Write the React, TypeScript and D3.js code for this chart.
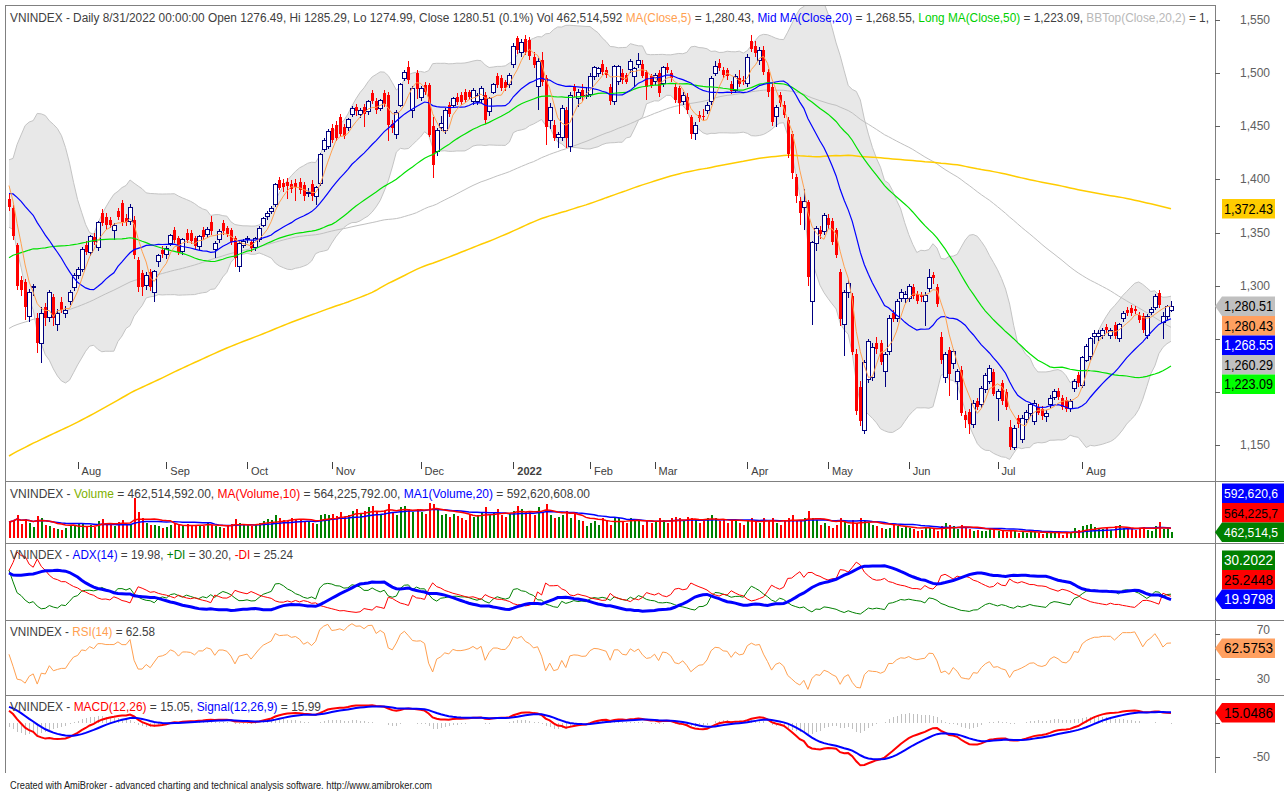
import React, { useMemo } from "react";
import * as d3 from "d3";

type Bar = [number, number, number, number]; // open, high, low, close

// closes before the first visible bar (warm-up for the long averages)
const prevCloses: number[] = [
  893, 895, 900, 905, 903, 907, 905, 906,
  910, 915, 918, 922, 925, 928, 930, 932, 935, 938, 940, 942, 944, 945, 940, 936, 930, 926, 924, 928, 931, 925,
  933, 940, 948, 955, 958, 960, 965, 970, 968, 972, 975, 978, 982, 985, 990, 995, 1000, 995, 1003, 1008, 1003,
  1010, 1015, 1020, 1025, 1030, 1035, 1040, 1045, 1050, 1055, 1060, 1058, 1065, 1070, 1075, 1080, 1085, 1090, 1095, 1100, 1098, 1102, 1104,
  1120, 1130, 1140, 1150, 1160, 1170, 1180, 1185, 1190, 1186, 1175, 1180, 1175, 1165, 1160, 1140, 1080, 1030, 1023, 1056,
  1080, 1090, 1110, 1120, 1090, 1110, 1130, 1150, 1165, 1170, 1170, 1165, 1168, 1172,
  1175, 1180, 1170, 1165, 1175, 1180, 1170, 1175, 1180, 1185, 1178, 1182, 1170, 1165, 1168, 1175, 1180, 1185, 1175, 1165, 1170, 1185, 1191,
  1195, 1200, 1210, 1220, 1225, 1230, 1232, 1235, 1240, 1245, 1250, 1248, 1240, 1235, 1230, 1225, 1215, 1220, 1225, 1230, 1239,
  1230, 1225, 1230, 1240, 1245, 1250, 1255, 1250, 1245, 1255, 1265, 1270, 1275, 1280, 1285, 1290, 1295, 1300, 1310, 1328,
  1340, 1345, 1350, 1355, 1360, 1350, 1340, 1345, 1355, 1365, 1370, 1375, 1380, 1380, 1385, 1390, 1390, 1395, 1385, 1380, 1390, 1408,
  1415, 1420, 1405, 1390, 1382,
];

const jul21: Bar[] = [
  [1382,1386,1370,1374],[1373,1376,1343,1347],[1338,1340,1296,1300],[1305,1309,1290,1296],[1303,1306,1268,1280],
  [1271,1297,1266,1294],[1298,1302,1290,1299],[1270,1274,1237,1246],[1246,1280,1227,1274],[1280,1284,1262,1270],
  [1270,1296,1266,1294],[1289,1292,1262,1270],[1263,1278,1257,1274],[1285,1289,1274,1277],[1274,1281,1270,1277],
  [1285,1296,1282,1294],[1298,1312,1295,1310],
];
const aug21: Bar[] = [
  [1310,1318,1306,1315],[1315,1336,1313,1334],[1338,1342,1329,1332],[1331,1348,1328,1346],[1346,1350,1338,1341],
  [1336,1361,1333,1359],[1368,1372,1356,1359],[1365,1368,1352,1357],[1362,1365,1354,1357],[1352,1359,1343,1357],
  [1370,1373,1362,1365],[1378,1381,1356,1360],[1364,1367,1356,1360],[1360,1377,1357,1374],[1362,1366,1325,1329],
  [1324,1327,1294,1299],[1312,1315,1290,1299],[1300,1313,1296,1310],[1313,1316,1295,1299],[1294,1315,1285,1313],
  [1323,1330,1318,1328],[1334,1337,1326,1330],
];
const sep21: Bar[] = [
  [1329,1337,1325,1335],[1340,1349,1337,1347],[1352,1355,1340,1343],[1345,1347,1329,1332],[1332,1345,1329,1343],
  [1350,1353,1340,1343],[1350,1352,1339,1342],[1345,1347,1334,1337],[1337,1348,1334,1346],[1352,1355,1343,1346],
  [1348,1355,1345,1353],[1360,1366,1348,1351],[1334,1342,1326,1340],[1343,1353,1340,1351],[1359,1362,1348,1351],
  [1354,1356,1346,1349],[1352,1354,1338,1341],[1345,1347,1318,1326],[1318,1342,1313,1340],[1338,1344,1335,1342],
];
const oct21: Bar[] = [
  [1343,1347,1340,1344],[1341,1343,1332,1335],[1336,1346,1333,1344],[1343,1356,1341,1354],[1357,1365,1355,1363],
  [1365,1370,1362,1368],[1370,1375,1367,1373],[1376,1397,1374,1395],[1399,1402,1390,1392],[1397,1400,1388,1393],
  [1398,1401,1382,1394],[1396,1399,1387,1391],[1397,1400,1380,1393],[1398,1401,1386,1390],[1395,1398,1380,1384],
  [1387,1392,1383,1388],[1396,1399,1380,1384],[1384,1394,1376,1392],[1396,1425,1394,1423],[1428,1439,1426,1437],
  [1431,1447,1429,1445],
];
const nov21: Bar[] = [
  [1448,1452,1434,1437],[1451,1455,1436,1439],[1459,1462,1440,1443],[1449,1452,1438,1441],[1449,1458,1446,1456],
  [1461,1469,1459,1467],[1468,1471,1460,1464],[1461,1467,1458,1465],[1468,1471,1449,1462],[1464,1475,1461,1473],
  [1481,1484,1471,1474],[1474,1477,1462,1465],[1467,1476,1464,1474],[1481,1484,1468,1471],[1479,1482,1436,1451],
  [1452,1456,1444,1448],[1442,1465,1438,1463],[1470,1491,1468,1489],[1495,1503,1493,1501],[1506,1511,1490,1494],
  [1465,1488,1458,1486],[1500,1503,1476,1485],
];
const dec21: Bar[] = [
  [1477,1488,1474,1486],[1489,1492,1479,1482],[1489,1491,1440,1442],[1450,1459,1401,1414],[1426,1448,1422,1446],
  [1449,1460,1446,1453],[1446,1467,1443,1465],[1470,1473,1459,1462],[1470,1478,1467,1476],[1478,1481,1470,1473],
  [1479,1482,1470,1473],[1482,1485,1472,1475],[1482,1484,1475,1478],[1473,1486,1470,1484],[1473,1481,1470,1479],
  [1475,1488,1472,1486],[1479,1482,1452,1456],[1464,1478,1460,1476],[1482,1491,1480,1489],[1497,1500,1486,1489],
  [1495,1498,1483,1486],[1492,1494,1483,1486],[1489,1500,1486,1498],
];
const jan22: Bar[] = [
  [1508,1528,1505,1525],[1533,1535,1518,1522],[1519,1532,1515,1529],[1532,1536,1517,1520],[1531,1534,1512,1516],
  [1515,1520,1505,1508],[1487,1514,1465,1511],[1512,1520,1488,1492],[1495,1498,1432,1449],[1455,1472,1447,1468],
  [1451,1456,1436,1439],[1439,1445,1430,1442],[1439,1470,1436,1467],[1465,1468,1430,1439],[1431,1482,1426,1479],
  [1487,1490,1478,1483],[1476,1485,1468,1482],[1484,1490,1474,1478],[1479,1487,1476,1479],
];
const feb22: Bar[] = [
  [1480,1500,1478,1497],[1497,1507,1494,1505],[1500,1506,1496,1504],[1509,1512,1498,1501],[1503,1506,1495,1498],
  [1487,1490,1470,1474],[1473,1508,1470,1506],[1492,1508,1489,1506],[1500,1504,1490,1494],[1498,1500,1490,1492],
  [1503,1513,1500,1511],[1497,1506,1487,1504],[1508,1519,1505,1512],[1509,1512,1495,1497],[1501,1503,1475,1487],
  [1497,1499,1486,1489],
];
const mar22: Bar[] = [
  [1492,1500,1489,1498],[1500,1503,1478,1481],[1490,1507,1487,1505],[1506,1510,1500,1503],[1500,1503,1492,1495],
  [1487,1490,1472,1475],[1486,1488,1462,1472],[1473,1482,1470,1479],[1478,1481,1462,1465],[1459,1461,1438,1443],
  [1443,1454,1437,1451],[1461,1464,1454,1458],[1460,1466,1455,1459],[1465,1473,1462,1470],[1473,1497,1470,1495],
  [1500,1511,1497,1506],[1510,1513,1502,1505],[1503,1506,1495,1498],[1503,1505,1494,1497],[1490,1493,1480,1483],
  [1484,1499,1481,1497],[1495,1503,1487,1490],[1494,1497,1489,1492],
];
const apr22: Bar[] = [
  [1490,1518,1487,1515],[1530,1536,1520,1523],[1526,1530,1515,1519],[1512,1525,1508,1521],[1522,1526,1498,1501],
  [1501,1504,1478,1482],[1487,1490,1450,1454],[1459,1470,1449,1468],[1479,1482,1468,1472],[1470,1474,1458,1461],
  [1456,1459,1420,1424],[1443,1446,1400,1406],[1402,1405,1378,1384],[1380,1383,1357,1368],[1374,1391,1352,1379],
  [1379,1381,1300,1308],[1285,1342,1263,1341],[1340,1356,1333,1354],[1352,1356,1344,1349],[1351,1368,1348,1366],
];
const may22: Bar[] = [
  [1364,1367,1353,1357],[1361,1364,1338,1341],[1352,1354,1326,1329],[1313,1316,1262,1269],[1263,1296,1234,1294],
  [1294,1305,1288,1302],[1290,1293,1235,1238],[1236,1240,1178,1182],[1205,1210,1168,1173],[1164,1230,1160,1228],
  [1212,1250,1208,1247],[1214,1246,1210,1242],[1246,1252,1236,1240],[1246,1249,1225,1228],[1219,1238,1205,1235],
  [1238,1272,1235,1269],[1274,1277,1266,1269],[1269,1287,1266,1285],[1288,1297,1285,1294],[1288,1295,1284,1292],
];
const jun22: Bar[] = [
  [1288,1302,1285,1299],[1299,1302,1287,1290],[1292,1295,1283,1286],[1291,1294,1285,1289],[1285,1294,1262,1291],
  [1297,1316,1294,1308],[1310,1313,1302,1307],[1299,1302,1280,1283],[1252,1256,1226,1230],[1214,1238,1208,1235],
  [1239,1242,1196,1217],[1227,1240,1222,1238],[1210,1222,1192,1219],[1221,1224,1177,1180],[1178,1182,1166,1174],
  [1181,1184,1160,1170],[1169,1192,1166,1189],[1191,1194,1183,1186],[1188,1206,1185,1203],[1202,1218,1199,1215],
  [1210,1225,1207,1222],[1219,1222,1196,1198],
];
const jul22: Bar[] = [
  [1194,1203,1173,1200],[1208,1211,1188,1191],[1200,1203,1183,1186],[1167,1174,1145,1148],[1148,1169,1145,1166],
  [1175,1178,1166,1170],[1155,1178,1152,1175],[1174,1183,1171,1181],[1180,1190,1177,1188],[1172,1192,1169,1189],
  [1186,1189,1178,1180],[1184,1187,1174,1177],[1177,1183,1172,1180],[1188,1197,1185,1194],[1195,1203,1192,1200],
  [1201,1204,1192,1195],[1194,1197,1183,1186],[1192,1195,1181,1184],[1184,1193,1181,1191],[1203,1212,1200,1210],
  [1216,1219,1205,1208],
];
const aug22: Bar[] = [
  [1206,1234,1204,1232],[1230,1245,1228,1243],[1233,1252,1230,1250],[1252,1258,1245,1255],[1252,1258,1248,1255],
  [1253,1260,1250,1258],[1261,1264,1255,1258],[1253,1260,1250,1258],[1263,1266,1250,1253],[1250,1265,1247,1263],
  [1269,1276,1266,1274],[1277,1280,1271,1274],[1279,1282,1271,1274],[1278,1281,1273,1276],[1272,1275,1265,1268],
  [1271,1274,1255,1258],[1253,1273,1250,1271],[1275,1280,1272,1278],[1279,1292,1277,1290],[1293,1296,1279,1282],
  [1265,1275,1250,1271],[1271,1282,1268,1280],[1276.49,1285.29,1274.99,1280.51],
];

// volume in millions of shares
const volJul21 = [780, 850, 1000, 720, 880, 760, 620, 980, 900, 700, 650, 580, 560, 520, 600, 640, 700];
const volAug21 = [720, 760, 650, 690, 620, 820, 880, 760, 700, 640, 780, 850, 700, 720, 1550, 1100, 900, 760, 680, 700, 640, 600];
const volSep21 = [620, 700, 760, 680, 640, 720, 680, 660, 700, 640, 760, 700, 640, 620, 600, 660, 720, 880, 760, 700];
const volOct21 = [680, 640, 700, 760, 820, 880, 840, 1000, 900, 860, 820, 900, 860, 840, 780, 800, 760, 720, 1000, 1050, 1000];
const volNov21 = [1050, 980, 1100, 950, 1000, 1150, 1200, 1050, 1150, 1250, 1300, 1100, 1000, 1150, 1350, 1100, 1000, 1250, 1300, 1200, 1100, 1200];
const volDec21 = [1100, 1050, 1400, 1350, 1200, 1000, 1050, 950, 1050, 980, 900, 850, 1050, 950, 1000, 1100, 1250, 1000, 1100, 1200, 1000, 950, 1050];
const volJan22 = [1150, 1300, 1200, 1100, 1150, 1000, 1250, 1100, 1350, 1000, 900, 950, 1000, 1150, 900, 1100, 850, 800, 650];
const volFeb22 = [750, 800, 700, 900, 850, 700, 950, 900, 800, 750, 900, 850, 800, 700, 850, 750];
const volMar22 = [800, 900, 850, 750, 900, 950, 900, 800, 950, 900, 850, 750, 800, 900, 1000, 900, 800, 850, 750, 800, 850, 750, 700];
const volApr22 = [850, 900, 800, 750, 900, 850, 900, 750, 700, 800, 900, 1000, 850, 800, 900, 1150, 900, 850, 700, 750];
const volMay22 = [650, 600, 700, 900, 800, 700, 850, 750, 900, 800, 750, 700, 650, 600, 550, 600, 700, 650, 600, 650];
const volJun22 = [600, 550, 500, 520, 600, 580, 550, 500, 650, 750, 700, 650, 550, 700, 600, 550, 500, 520, 480, 500, 550, 520];
const volJul22 = [480, 500, 450, 520, 480, 430, 460, 420, 500, 450, 420, 400, 430, 500, 470, 420, 380, 450, 470, 600, 520];
const volAug22 = [650, 700, 720, 620, 600, 550, 580, 520, 650, 700, 580, 600, 550, 520, 580, 620, 520, 500, 650, 780, 560, 600, 462.5];

const monthLabels = ["Aug", "Sep", "Oct", "Nov", "Dec", "2022", "Feb", "Mar", "Apr", "May", "Jun", "Jul", "Aug"];
const priceTicks = [1150, 1200, 1250, 1300, 1350, 1400, 1450, 1500, 1550];
const rsiTicks = [30, 70];
const macdTicks = [-50, 0];

// last values shown in legends and tags
const lastClose = 1280.51;
const lastMa5 = 1280.43;
const lastMa20 = 1268.55;
const lastMa50 = 1223.09;
const lastMa100 = 1260.29;
const lastMa200 = 1372.43;
const lastVol = 462.514592;
const lastVolMa10 = 564.225792;
const lastVolMa20 = 592.620608;
const lastAdx = 19.9798;
const lastPdi = 30.2022;
const lastMdi = 25.2448;
const lastRsi = 62.5753;
const lastMacd = 15.0486;

const FONT = "'Liberation Sans', Arial, Helvetica, sans-serif";
const W = 1284;
const H = 791;
const L = 5;
const R = 1215;
const TAG_H = 19.5;
const TXT = "#404040";

function sma(arr: number[], n: number, i: number) {
  const s = Math.max(0, i - n + 1);
  let sum = 0;
  for (let k = s; k <= i; k++) sum += arr[k];
  return sum / (i - s + 1);
}
function sd(arr: number[], n: number, i: number) {
  const s = Math.max(0, i - n + 1);
  const m = sma(arr, n, i);
  let q = 0;
  for (let k = s; k <= i; k++) q += (arr[k] - m) * (arr[k] - m);
  return Math.sqrt(q / (i - s + 1));
}
function ema(arr: number[], n: number) {
  const k = 2 / (n + 1);
  const out: number[] = [];
  let e = arr[0];
  arr.forEach((v, i) => {
    e = i === 0 ? v : v * k + e * (1 - k);
    out.push(e);
  });
  return out;
}
function rsiCalc(arr: number[], n: number) {
  const out = [50];
  let ag = 0, al = 0;
  for (let i = 1; i < arr.length; i++) {
    const d = arr[i] - arr[i - 1];
    const g = Math.max(d, 0), l = Math.max(-d, 0);
    if (i <= n) { ag += g / n; al += l / n; }
    else { ag = (ag * (n - 1) + g) / n; al = (al * (n - 1) + l) / n; }
    out.push(al === 0 ? 100 : 100 - 100 / (1 + ag / al));
  }
  return out;
}
function adxCalc(h: number[], l: number[], c: number[], n: number) {
  let trS = 0, pS = 0, mS = 0, adx = 0;
  const pdi = [0], mdi = [0], ad = [0];
  for (let i = 1; i < c.length; i++) {
    const up = h[i] - h[i - 1];
    const dn = l[i - 1] - l[i];
    const pdm = up > dn && up > 0 ? up : 0;
    const mdm = dn > up && dn > 0 ? dn : 0;
    const tr = Math.max(h[i] - l[i], Math.abs(h[i] - c[i - 1]), Math.abs(l[i] - c[i - 1]));
    if (i <= n) { trS += tr; pS += pdm; mS += mdm; }
    else { trS = trS - trS / n + tr; pS = pS - pS / n + pdm; mS = mS - mS / n + mdm; }
    const p = trS ? (100 * pS) / trS : 0;
    const m = trS ? (100 * mS) / trS : 0;
    const dx = p + m ? (100 * Math.abs(p - m)) / (p + m) : 0;
    adx = i === 1 ? dx : (adx * (n - 1) + dx) / n;
    pdi.push(p); mdi.push(m); ad.push(adx);
  }
  return { pdi, mdi, ad };
}

let measureCtx: CanvasRenderingContext2D | null = null;
function measure(t: string, size: number) {
  if (!measureCtx) measureCtx = document.createElement("canvas").getContext("2d");
  if (!measureCtx) return t.length * size * 0.5;
  measureCtx.font = `${size}px ${FONT}`;
  return measureCtx.measureText(t).width;
}

// a legend line made of coloured pieces, squeezed to a given total width
function Legend({ x, y, size, width, segs }: { x: number; y: number; size: number; width: number; segs: [string, string][] }) {
  const ws = segs.map(([t]) => measure(t, size));
  const k = width / d3.sum(ws);
  let cx = x;
  return (
    <g>
      {segs.map(([t, col], i) => {
        const lead = t.length - t.trimStart().length;
        const trimmed = t.trim();
        const xs = cx + measure(t.slice(0, lead), size) * k;
        const wt = measure(trimmed, size) * k;
        cx += ws[i] * k;
        return (
          <text key={i} x={xs} y={y} fontSize={size} fontFamily={FONT} fill={col}
            textLength={wt} lengthAdjust="spacingAndGlyphs">{trimmed}</text>
        );
      })}
    </g>
  );
}

function Tag({ y, text, bg, fg, arrow, wide }: any) {
  const x0 = 1222, h = TAG_H, w = wide ? W - x0 : 53;
  const pts = arrow
    ? `${R},${y} ${x0},${y - h / 2} ${x0 + w},${y - h / 2} ${x0 + w},${y + h / 2} ${x0},${y + h / 2}`
    : `${x0},${y - h / 2} ${x0 + w},${y - h / 2} ${x0 + w},${y + h / 2} ${x0},${y + h / 2}`;
  return (
    <g>
      <polygon points={pts} fill={bg} />
      <text x={x0 + 2} y={y + 5} fontSize={wide ? 12.5 : 14} fontFamily={FONT} fill={fg}
        textLength={wide ? 54 : 49} lengthAdjust="spacingAndGlyphs">{text}</text>
    </g>
  );
}

function stackTags(items: any[], h: number, bottom: number) {
  const s = items.map((t) => ({ ...t })).sort((a, b) => a.y - b.y || (b.arrow ? 1 : 0) - (a.arrow ? 1 : 0));
  for (let i = 1; i < s.length; i++) if (s[i].y < s[i - 1].y + h) s[i].y = s[i - 1].y + h;
  const over = s[s.length - 1].y + h / 2 - bottom;
  if (over > 0) {
    s[s.length - 1].y -= over;
    for (let i = s.length - 2; i >= 0; i--) if (s[i].y > s[i + 1].y - h) s[i].y = s[i + 1].y - h;
  }
  return s;
}

export default function App() {
  const d = useMemo(() => {
    const months = [jul21, aug21, sep21, oct21, nov21, dec21, jan22, feb22, mar22, apr22, may22, jun22, jul22, aug22];
    const vols = [volJul21, volAug21, volSep21, volOct21, volNov21, volDec21, volJan22, volFeb22, volMar22, volApr22, volMay22, volJun22, volJul22, volAug22];
    const starts: number[] = [];
    let acc = 0;
    months.forEach((m) => { starts.push(acc); acc += m.length; });
    const bars = months.flat();
    const vol = vols.flat();
    const N = bars.length;
    const P = prevCloses.length;
    const o = bars.map((b) => b[0]);
    const hi = bars.map((b) => b[1]);
    const lo = bars.map((b) => b[2]);
    const c = bars.map((b) => b[3]);
    const cAll = prevCloses.concat(c);
    const hAll = prevCloses.concat(hi);
    const lAll = prevCloses.concat(lo);
    const idx = d3.range(N);
    const ma = (n: number) => idx.map((i) => sma(cAll, n, P + i));
    const ma5 = ma(5), ma20 = ma(20), ma50 = ma(50), ma100 = ma(100), ma200 = ma(200);
    const bbTop = idx.map((i) => ma20[i] + 2 * sd(cAll, 20, P + i));
    const bbBot = idx.map((i) => ma20[i] - 2 * sd(cAll, 20, P + i));
    const vma10 = idx.map((i) => sma(vol, 10, i));
    const vma20 = idx.map((i) => sma(vol, 20, i));
    const rsi = rsiCalc(cAll, 14).slice(P);
    const e12 = ema(cAll, 12), e26 = ema(cAll, 26);
    const macdAll = e12.map((v, i) => v - e26[i]);
    const sigAll = ema(macdAll, 9);
    const macd = macdAll.slice(P), sig = sigAll.slice(P);
    const ax = adxCalc(hAll, lAll, cAll, 14);
    const pdi = ax.pdi.slice(P), mdi = ax.mdi.slice(P), adx = ax.ad.slice(P);
    return { starts, o, hi, lo, c, vol, N, ma5, ma20, ma50, ma100, ma200, bbTop, bbBot, vma10, vma20, rsi, macd, sig, pdi, mdi, adx };
  }, []);

  const x = d3.scaleLinear().domain([0, d.N - 1]).range([9, 1171]);
  const yP = d3.scaleLinear().domain([1150, 1550]).range([445, 20]);
  const yV = d3.scaleLinear().domain([270, 2030]).range([538, 483]);
  const aMin = d3.min([...d.pdi, ...d.mdi, ...d.adx]) as number;
  const aMax = d3.max([...d.pdi, ...d.mdi, ...d.adx]) as number;
  const yA = d3.scaleLinear().domain([aMin, aMax]).range([614, 552]);
  const yR = d3.scaleLinear().domain([30, 70]).range([679, 634]);
  const yM = d3.scaleLinear().domain([-50, 0]).range([757, 723]);

  const line = (vals: number[], ys: any) =>
    d3.line<number>().x((_, i) => x(i)).y((v) => ys(v))(vals) as string;
  const bbArea = d3.area<number>().x((_, i) => x(i)).y0((_, i) => yP(d.bbBot[i])).y1((_, i) => yP(d.bbTop[i]))(d.c) as string;

  const priceTags = stackTags([
    { y: yP(lastMa200), text: "1,372.43", bg: "#FFCC00", fg: "#000" },
    { y: yP(lastClose), text: "1,280.51", bg: "#C0C0C0", fg: "#000", arrow: true },
    { y: yP(lastMa5), text: "1,280.43", bg: "#FFA060", fg: "#000" },
    { y: yP(lastMa20), text: "1,268.55", bg: "#0000FF", fg: "#FFF" },
    { y: yP(lastMa100), text: "1,260.29", bg: "#C0C0C0", fg: "#000" },
    { y: yP(lastMa50), text: "1,223.09", bg: "#00FF00", fg: "#000" },
  ], TAG_H, 470);
  const volTags = stackTags([
    { y: yV(lastVolMa20), text: "592,620,6", bg: "#0000FF", fg: "#FFF" },
    { y: yV(lastVolMa10), text: "564,225,7", bg: "#FF0000", fg: "#000" },
    { y: yV(lastVol), text: "462,514,5", bg: "#008000", fg: "#FFF", arrow: true },
  ], TAG_H, 542);
  const adxTags = stackTags([
    { y: yA(lastPdi), text: "30.2022", bg: "#008000", fg: "#FFF" },
    { y: yA(lastMdi), text: "25.2448", bg: "#FF0000", fg: "#000" },
    { y: yA(lastAdx), text: "19.9798", bg: "#0000FF", fg: "#FFF", arrow: true },
  ], TAG_H, 609);

  // axis labels hidden behind a tag are not drawn
  const hidden = (yy: number) => priceTags.some((t) => Math.abs(t.y - yy) < TAG_H / 2 + 4);

  return (
    <div style={{ position: "absolute", left: 0, top: 0 }}>
      <svg width={W} height={H} viewBox={`0 0 ${W} ${H}`} style={{ display: "block", background: "#fff" }}>
        <defs>
          <clipPath id="cp"><rect x={L} y={5} width={R - L} height={476} /></clipPath>
          <clipPath id="cv"><rect x={L} y={482} width={R - L} height={61} /></clipPath>
          <clipPath id="ca"><rect x={L} y={544} width={R - L} height={76} /></clipPath>
          <clipPath id="cr"><rect x={L} y={621} width={R - L} height={74} /></clipPath>
          <clipPath id="cm"><rect x={L} y={696} width={R - L} height={77} /></clipPath>
        </defs>

        {/* price pane */}
        <g clipPath="url(#cp)">
          <path d={bbArea} fill="#E8E8E8" />
          <path d={line(d.bbTop, yP)} fill="none" stroke="#C4C4C4" strokeWidth={1} />
          <path d={line(d.bbBot, yP)} fill="none" stroke="#C4C4C4" strokeWidth={1} />
          <path d={line(d.ma100, yP)} fill="none" stroke="#C0C0C0" strokeWidth={1} />
          <path d={line(d.ma200, yP)} fill="none" stroke="#FFCC00" strokeWidth={1.5} />
          <g shapeRendering="crispEdges">
            {d.c.map((cl, i) => {
              const cx = Math.round(x(i));
              const op = d.o[i];
              const up = cl >= op;
              const col = up ? "#000080" : "#FF0000";
              const top = yP(Math.max(op, cl));
              const bot = yP(Math.min(op, cl));
              return (
                <g key={i}>
                  <line x1={cx + 0.5} x2={cx + 0.5} y1={yP(d.hi[i])} y2={yP(d.lo[i])} stroke={col} />
                  {up ? (
                    <rect x={cx - 1.5} y={top} width={4} height={Math.max(1, bot - top)} fill="#FFF" stroke={col} />
                  ) : (
                    <rect x={cx - 1} y={top} width={3} height={Math.max(1, bot - top)} fill={col} />
                  )}
                </g>
              );
            })}
          </g>
          <path d={line(d.ma50, yP)} fill="none" stroke="#00E000" strokeWidth={1.2} />
          <path d={line(d.ma20, yP)} fill="none" stroke="#0000FF" strokeWidth={1.2} />
          <path d={line(d.ma5, yP)} fill="none" stroke="#FFA050" strokeWidth={1} />
          {d.starts.slice(1).map((s, k) => (
            <g key={k}>
              <line x1={Math.round(x(s)) + 0.5} x2={Math.round(x(s)) + 0.5} y1={462} y2={469} stroke="#404040" />
              <text x={x(s) + 4} y={475} fontSize={11} fontFamily={FONT} fill={TXT}
                fontWeight={monthLabels[k] === "2022" ? "bold" : "normal"}>{monthLabels[k]}</text>
            </g>
          ))}
        </g>
        <Legend x={10} y={22} size={12} width={1199} segs={[
          ["VNINDEX - Daily 8/31/2022 00:00:00 Open 1276.49, Hi 1285.29, Lo 1274.99, Close 1280.51 (0.1%) Vol 462,514,592 ", TXT],
          ["MA(Close,5)", "#FFA050"],
          [" = 1,280.43, ", TXT],
          ["Mid MA(Close,20)", "#0000FF"],
          [" = 1,268.55, ", TXT],
          ["Long MA(Close,50)", "#00D000"],
          [" = 1,223.09, ", TXT],
          ["BBTop(Close,20,2)", "#B8B8B8"],
          [" = 1,", TXT],
        ]} />

        {/* volume pane */}
        <g clipPath="url(#cv)">
          <g shapeRendering="crispEdges">
            {d.vol.map((v, i) => (
              <rect key={i} x={Math.round(x(i)) - 0.5} y={yV(v)} width={2} height={538 - yV(v)}
                fill={d.c[i] >= d.o[i] ? "#008000" : "#FF0000"} />
            ))}
          </g>
          <path d={line(d.vma20, yV)} fill="none" stroke="#0000FF" strokeWidth={1.5} />
          <path d={line(d.vma10, yV)} fill="none" stroke="#FF0000" strokeWidth={1.5} />
        </g>
        <Legend x={10} y={498} size={12} width={580} segs={[
          ["VNINDEX - ", TXT],
          ["Volume", "#80B000"],
          [" = 462,514,592.00, ", TXT],
          ["MA(Volume,10)", "#FF0000"],
          [" = 564,225,792.00, ", TXT],
          ["MA1(Volume,20)", "#0000FF"],
          [" = 592,620,608.00", TXT],
        ]} />

        {/* ADX pane */}
        <g clipPath="url(#ca)">
          <path d={line(d.pdi, yA)} fill="none" stroke="#008000" strokeWidth={1} />
          <path d={line(d.mdi, yA)} fill="none" stroke="#FF0000" strokeWidth={1} />
          <path d={line(d.adx, yA)} fill="none" stroke="#0000FF" strokeWidth={3} />
        </g>
        <Legend x={10} y={559} size={12} width={283} segs={[
          ["VNINDEX - ", TXT],
          ["ADX(14)", "#0000FF"],
          [" = 19.98, ", TXT],
          ["+DI", "#008000"],
          [" = 30.20, ", TXT],
          ["-DI", "#FF0000"],
          [" = 25.24", TXT],
        ]} />

        {/* RSI pane */}
        <g clipPath="url(#cr)">
          <path d={line(d.rsi, yR)} fill="none" stroke="#FFA050" strokeWidth={1} />
        </g>
        <Legend x={10} y={636} size={12} width={145} segs={[
          ["VNINDEX - ", TXT],
          ["RSI(14)", "#FFA050"],
          [" = 62.58", TXT],
        ]} />

        {/* MACD pane */}
        <g clipPath="url(#cm)">
          <g shapeRendering="crispEdges">
            {d.macd.map((m, i) => {
              const hv = m - d.sig[i];
              return <line key={i} x1={Math.round(x(i)) + 0.5} x2={Math.round(x(i)) + 0.5} y1={yM(0)} y2={yM(hv)} stroke="#C0C0C0" />;
            })}
          </g>
          <path d={line(d.macd, yM)} fill="none" stroke="#FF0000" strokeWidth={2} />
          <path d={line(d.sig, yM)} fill="none" stroke="#0000FF" strokeWidth={2} />
        </g>
        <Legend x={10} y={711} size={12} width={311} segs={[
          ["VNINDEX - ", TXT],
          ["MACD(12,26)", "#FF0000"],
          [" = 15.05, ", TXT],
          ["Signal(12,26,9)", "#0000FF"],
          [" = 15.99", TXT],
        ]} />

        {/* frame */}
        <g shapeRendering="crispEdges" stroke="#808080" fill="none">
          <line x1={L} x2={R} y1={5.5} y2={5.5} />
          <line x1={L + 0.5} x2={L + 0.5} y1={5} y2={773} />
          <line x1={R + 0.5} x2={R + 0.5} y1={5} y2={773} />
          {[481.5, 543.5, 620.5, 695.5].map((yy) => (
            <line key={yy} x1={L} x2={W} y1={yy} y2={yy} />
          ))}
        </g>

        {/* right axis */}
        <g shapeRendering="crispEdges" stroke="#606060">
          {priceTicks.map((t) => <line key={t} x1={R} x2={R + 5} y1={Math.round(yP(t)) + 0.5} y2={Math.round(yP(t)) + 0.5} />)}
          {rsiTicks.map((t) => <line key={t} x1={R} x2={R + 5} y1={Math.round(yR(t)) + 0.5} y2={Math.round(yR(t)) + 0.5} />)}
          {macdTicks.map((t) => <line key={t} x1={R} x2={R + 5} y1={Math.round(yM(t)) + 0.5} y2={Math.round(yM(t)) + 0.5} />)}
        </g>
        {priceTicks.filter((t) => !hidden(yP(t))).map((t) => (
          <text key={t} x={1270} y={yP(t) + 4} fontSize={12} fontFamily={FONT} fill="#606060" textAnchor="end">{d3.format(",")(t)}</text>
        ))}
        {rsiTicks.map((t) => (
          <text key={t} x={1270} y={yR(t) + (t === 70 ? 0 : 4)} fontSize={12} fontFamily={FONT} fill="#606060" textAnchor="end">{t}</text>
        ))}
        <text x={1270} y={yM(-50) + 4} fontSize={12} fontFamily={FONT} fill="#606060" textAnchor="end">-50</text>

        {priceTags.map((t, i) => <Tag key={i} {...t} />)}
        {volTags.map((t, i) => <Tag key={i} {...t} wide />)}
        {adxTags.map((t, i) => <Tag key={i} {...t} />)}
        <Tag y={yR(lastRsi) + 6} text="62.5753" bg="#FFA060" fg="#000" arrow />
        <Tag y={yM(lastMacd)} text="15.0486" bg="#FF0000" fg="#000" arrow />

        <text x={10} y={789} fontSize={10} fontFamily={FONT} fill="#202020" textLength={422} lengthAdjust="spacingAndGlyphs">
          Created with AmiBroker - advanced charting and technical analysis software. http://www.amibroker.com
        </text>
      </svg>
    </div>
  );
}
